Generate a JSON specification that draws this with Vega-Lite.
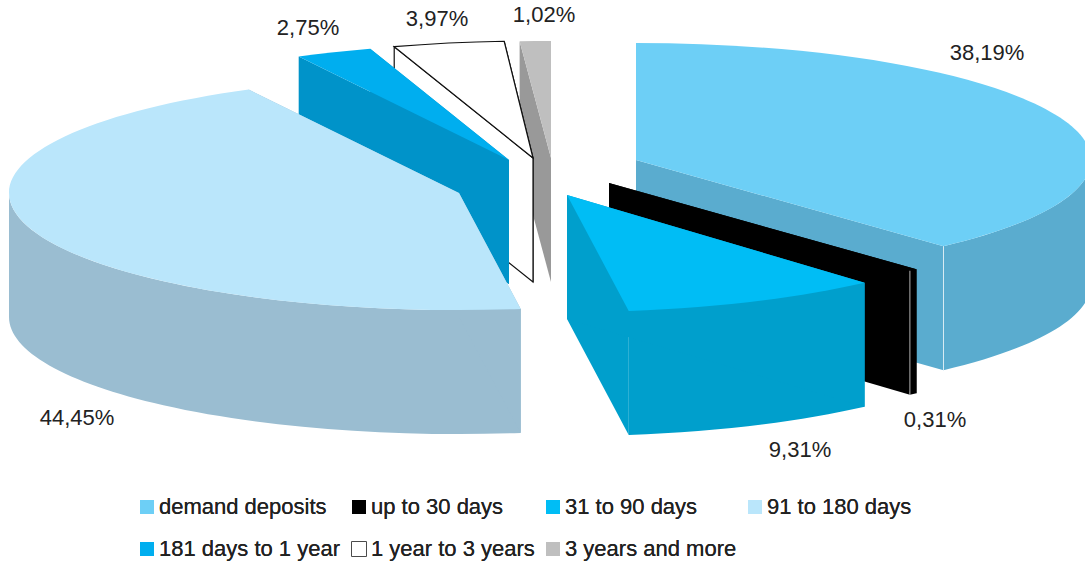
{"$schema":"https://vega.github.io/schema/vega-lite/v6.json","width":1085,"height":565,"padding":0,"autosize":"none","background":"white","config":{"view":{"stroke":null},"font":"Liberation Sans"},
"data":{"values":[{"category":"demand deposits","value":38.19},{"category":"up to 30 days","value":0.31},{"category":"31 to 90 days","value":9.31},{"category":"91 to 180 days","value":44.45},{"category":"181 days to 1 year","value":2.75},{"category":"1 year to 3 years","value":3.97},{"category":"3 years and more","value":1.02}]},
"transform":[{"stack":"value","groupby":[],"as":["v0","v1"]},
{"calculate":"datum.v0/100*2*PI","as":"t0"},{"calculate":"datum.v1/100*2*PI","as":"t1"},
{"calculate":"{'demand deposits':[86,-18,437,-125,455],'up to 30 days':[59,5,385,242,455],'31 to 90 days':[17,17,250,272,450],'91 to 180 days':[-91,15,-473,240,450],'181 days to 1 year':[-41,-18,-242,-150,450],'1 year to 3 years':[-17,-20,-113,-159,450],'3 years and more':[1,-20,-6,-163,490]}[datum.category]","as":"off"},
{"calculate":"datum.off[0]","as":"dx"},{"calculate":"datum.off[1]","as":"dy"},{"calculate":"datum.off[2]","as":"tx"},{"calculate":"datum.off[3]","as":"ty"},{"calculate":"datum.off[4]","as":"rx"},
{"calculate":"replace(format(datum.value,'.2f'),'.',',')+'%'","as":"label"}],
"layer":[
{"transform":[
{"calculate":"round(datum.rx*sin(datum.t0)*100)/100","as":"x0"},{"calculate":"round(-117*cos(datum.t0)*100)/100","as":"y0"},
{"calculate":"round(datum.rx*sin(datum.t1)*100)/100","as":"x1"},{"calculate":"round(-117*cos(datum.t1)*100)/100","as":"y1"},
{"calculate":"datum.t1-datum.t0>PI?1:0","as":"lg"},
{"calculate":"max(datum.t0,PI/2)","as":"c0"},{"calculate":"min(datum.t1,3*PI/2)","as":"c1"},
{"calculate":"round(datum.rx*sin(datum.c0)*100)/100","as":"fx0"},{"calculate":"round(-117*cos(datum.c0)*100)/100","as":"fy0"},
{"calculate":"round(datum.rx*sin(datum.c1)*100)/100","as":"fx1"},{"calculate":"round(-117*cos(datum.c1)*100)/100","as":"fy1"},
{"calculate":"'A'+datum.rx+',117 0 '+datum.lg","as":"arc"},
{"calculate":"datum.c1>datum.c0?'M'+datum.fx0+','+datum.fy0+' '+datum.arc+' 1 '+datum.fx1+','+datum.fy1+' L'+datum.fx1+','+(datum.fy1+124)+' '+datum.arc+' 0 '+datum.fx0+','+(datum.fy0+124)+' Z':'M0,0 L0,0 Z'","as":"rim"},
{"calculate":"datum.category==='demand deposits'||datum.category==='up to 30 days'?'M'+datum.x1+','+datum.y1+' L'+datum.x1+','+(datum.y1+124):'M0,0 L0,0 Z'","as":"edge"},
{"calculate":"['M0,0 L'+datum.x1+','+datum.y1+' L'+datum.x1+','+(datum.y1+124)+' L0,124 Z',datum.rim,'M0,0 L'+datum.x0+','+datum.y0+' L'+datum.x0+','+(datum.y0+124)+' L0,124 Z','M0,0 L'+datum.x0+','+datum.y0+' '+datum.arc+' 1 '+datum.x1+','+datum.y1+' Z',datum.edge]","as":"paths"},
{"calculate":"[' side',' side',' side','',' edge']","as":"kinds"},
{"flatten":["paths","kinds"]},
{"calculate":"datum.category+datum.kinds","as":"key"},
{"calculate":"indexof(['3 years and more','1 year to 3 years','181 days to 1 year','91 to 180 days','demand deposits','up to 30 days','31 to 90 days'],datum.category)","as":"z"},
{"window":[{"op":"row_number","as":"rn"}],"sort":[{"field":"z"}]}],
"mark":{"type":"point","filled":true,"size":4,"opacity":1},
"encoding":{
"x":{"field":"dx","type":"quantitative","scale":{"domain":[-550,535]},"axis":null},
"y":{"field":"dy","type":"quantitative","scale":{"domain":[387,-178]},"axis":null},
"order":{"field":"rn"},
"shape":{"field":"paths","type":"nominal","scale":null,"legend":null},
"color":{"field":"key","type":"nominal","scale":{"domain":["demand deposits","up to 30 days","31 to 90 days","91 to 180 days","181 days to 1 year","1 year to 3 years","3 years and more","demand deposits side","up to 30 days side","31 to 90 days side","91 to 180 days side","181 days to 1 year side","1 year to 3 years side","3 years and more side","demand deposits edge","up to 30 days edge"],"range":["#6dcff6","#000000","#00bdf5","#bae6fb","#00aeef","#ffffff","#bfbfbf","#5aaccf","#000000","#009fcc","#9abdd1","#0093c9","#ffffff","#999999","#5aaccf","#000000"]},
"legend":{"values":["demand deposits","up to 30 days","31 to 90 days","91 to 180 days","181 days to 1 year","1 year to 3 years","3 years and more"],"orient":"none","legendX":136,"legendY":496,"columns":4,"direction":"horizontal","title":null,"symbolType":"square","symbolSize":196,"labelFontSize":22,"labelFont":"Liberation Sans","labelColor":"#222222","labelLimit":300,"columnPadding":7,"rowPadding":20,"gridAlign":"each","labelOffset":1}},
"stroke":{"field":"key","type":"nominal","scale":{"domain":["demand deposits","up to 30 days","31 to 90 days","91 to 180 days","181 days to 1 year","1 year to 3 years","3 years and more","demand deposits side","up to 30 days side","31 to 90 days side","91 to 180 days side","181 days to 1 year side","1 year to 3 years side","3 years and more side","demand deposits edge","up to 30 days edge"],"range":["transparent","transparent","transparent","transparent","transparent","#111111","transparent","transparent","transparent","transparent","transparent","transparent","#111111","transparent","white","white"]},
"legend":{"values":["demand deposits","up to 30 days","31 to 90 days","91 to 180 days","181 days to 1 year","1 year to 3 years","3 years and more"],"orient":"none","legendX":136,"legendY":496,"columns":4,"direction":"horizontal","title":null,"symbolType":"square","symbolSize":196,"labelFontSize":22,"labelFont":"Liberation Sans","labelColor":"#222222","labelLimit":300,"columnPadding":7,"rowPadding":20,"gridAlign":"each","labelOffset":1}},
"strokeWidth":{"condition":{"test":"datum.kinds===' edge'","value":0.7},"value":1.2}}},
{"mark":{"type":"text","fontSize":22,"font":"Liberation Sans","color":"#222222"},
"encoding":{"x":{"field":"tx","type":"quantitative","scale":{"domain":[-550,535]},"axis":null},"y":{"field":"ty","type":"quantitative","scale":{"domain":[387,-178]},"axis":null},"text":{"field":"label"}}}
],"resolve":{"scale":{"color":"independent"}}}
